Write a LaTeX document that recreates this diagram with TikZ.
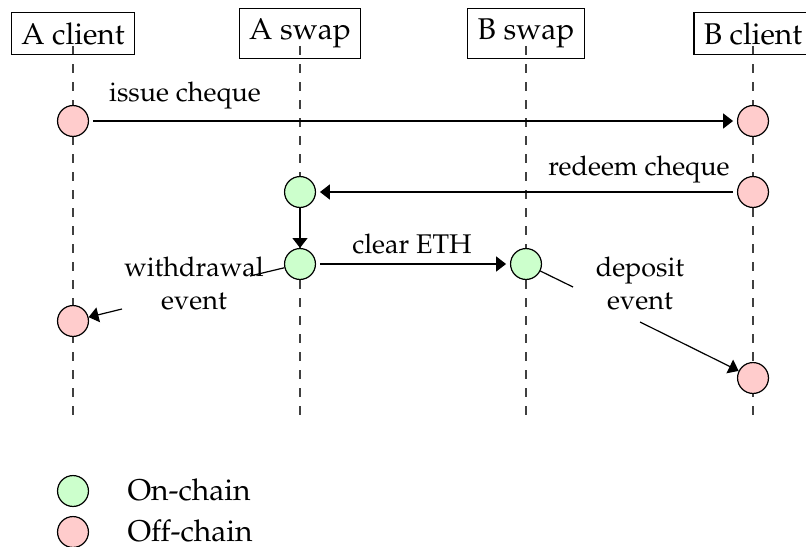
\documentclass[tikz,border=0pt]{standalone}
\usepackage[T1]{fontenc}
\usepackage{mathpazo}
\usetikzlibrary{arrows.meta}
\begin{document}
\begin{tikzpicture}[x=0.3333pt,y=-0.3333pt,
  actor/.style={draw, inner sep=3.33pt},
  life/.style={dashed, black!75, line width=0.4pt},
  onc/.style={circle, draw, fill=green!20, minimum size=10.3pt, inner sep=0pt},
  offc/.style={circle, draw, fill=red!20, minimum size=10.3pt, inner sep=0pt},
  msg/.style={-{Triangle[length=3.3pt,width=5pt]}},
  gap/.style={shorten >=1.3pt, shorten <=1.3pt},
  lbl/.style={align=center, inner sep=0pt, font=\small}]
\useasboundingbox (0,0) rectangle (806,546);
% lifelines
\coordinate (ac-t) at (73,46);  \coordinate (ac-b) at (73,420);
\coordinate (as-t) at (300,46); \coordinate (as-b) at (300,420);
\coordinate (bs-t) at (526,46); \coordinate (bs-b) at (526,420);
\coordinate (bc-t) at (753,46); \coordinate (bc-b) at (753,420);
\draw[life] (ac-t) -- (ac-b);
\draw[life] (as-t) -- (as-b);
\draw[life] (bs-t) -- (bs-b);
\draw[life] (bc-t) -- (bc-b);
% actors
\node[actor] (ac) at (73,33.5) {A client};
\node[actor] (as) at (300,33.5) {A swap};
\node[actor] (bs) at (526,33.5) {B swap};
\node[actor] (bc) at (753,33.5) {B client};
% events
\node[offc] (ac1) at (73,121) {};
\node[offc] (ac2) at (73,321) {};
\node[onc] (as1) at (300,192) {};
\node[onc] (as2) at (300,264) {};
\node[onc] (bs1) at (526,264) {};
\node[offc] (bc1) at (753,121) {};
\node[offc] (bc2) at (753,192) {};
\node[offc] (bc3) at (753,378) {};
% messages
\draw[msg,gap] (ac1) -- (bc1);
\node[lbl] (l1) at (185,96) {issue cheque};
\draw[msg,gap] (bc2) -- (as1);
\node[lbl] (l2) at (639,170) {redeem cheque};
\draw[msg] (as1) -- (as2);
\draw[msg,gap] (as2) -- (bs1);
\node[lbl] (l3) at (412,244) {clear ETH};
% withdrawal event
\node[lbl] (l4) at (194,284) {withdrawal\\event};
\coordinate (w1) at (250,276);
\coordinate (w2) at (122,309);
\draw (as2) -- (w1);
\draw[msg] (w2) -- (ac2);
% deposit event
\node[lbl] (l5) at (640,284) {deposit\\event};
\coordinate (d1) at (573,287);
\coordinate (d2) at (640,322);
\draw (bs1) -- (d1);
\draw[msg] (d2) -- (bc3);
% legend
\node[onc] (lg1) at (73,491) {};
\node[anchor=west, inner sep=0pt] (lt1) at (127,490) {On-chain};
\node[offc] (lg2) at (73,532) {};
\node[anchor=west, inner sep=0pt] (lt2) at (127,531) {Off-chain};
\end{tikzpicture}
\end{document}
